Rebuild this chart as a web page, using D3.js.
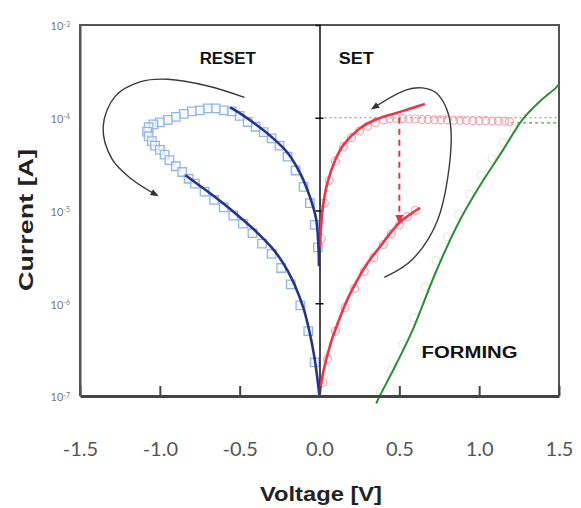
<!DOCTYPE html>
<html>
<head>
<meta charset="utf-8">
<script src="https://cdn.jsdelivr.net/npm/d3@7"></script>
<style>
  body { margin: 0; background: #fff; }
  svg { display: block; }
</style>
</head>
<body>
<div class="chart"></div>
<script>
// === Data (voltage in V, current in A) ===
const xTicks = [-1.5, -1.0, -0.5, 0.0, 0.5, 1.0, 1.5];
const yTicks = [1e-7, 1e-6, 1e-5, 1e-4, 1e-3];

// RESET (negative sweep) - fitted lines
const resetUpV = [-0.56, -0.5, -0.4, -0.3, -0.2, -0.12, -0.06, -0.02, -0.003];
const resetUpI = [1.29e-4, 1.12e-4, 8.5e-5, 6.2e-5, 4.2e-5, 2.5e-5, 1.4e-5, 7.9e-6, 2.5e-6];
const resetLowV = [-0.84, -0.7, -0.6, -0.5, -0.4, -0.3, -0.25, -0.2, -0.15, -0.1, -0.06, -0.03, 0];
const resetLowI = [2.4e-5, 1.6e-5, 1.18e-5, 8.5e-6, 6.0e-6, 4.0e-6, 3.1e-6, 2.25e-6, 1.5e-6, 8.8e-7, 4.7e-7, 2.5e-7, 1e-7];
// RESET measured points (open squares)
const resetPtsV = [-0.01, -0.03, -0.06, -0.1, -0.15, -0.2, -0.25, -0.3, -0.35, -0.4, -0.45, -0.5, -0.55, -0.6, -0.65, -0.7, -0.75, -0.8, -0.85, -0.9, -0.95, -1.0, -1.04, -1.07, -1.08, -1.07, -1.05, -1.03, -1.0, -0.97, -0.94, -0.9, -0.86, -0.82, -0.78, -0.72, -0.66, -0.6, -0.54, -0.48, -0.42, -0.36, -0.3, -0.24, -0.18, -0.12, -0.07, -0.03];
const resetPtsI = [4e-6, 7e-6, 1.2e-5, 1.8e-5, 2.7e-5, 3.8e-5, 5e-5, 6e-5, 7e-5, 8e-5, 9e-5, 1.05e-4, 1.17e-4, 1.2e-4, 1.26e-4, 1.26e-4, 1.2e-4, 1.17e-4, 1.1e-4, 1.02e-4, 9.5e-5, 8.9e-5, 8.5e-5, 7.9e-5, 7.1e-5, 6.3e-5, 5.6e-5, 5e-5, 4.5e-5, 4e-5, 3.5e-5, 3e-5, 2.6e-5, 2.2e-5, 1.95e-5, 1.6e-5, 1.3e-5, 1.08e-5, 8.8e-6, 7.2e-6, 5.7e-6, 4.4e-6, 3.4e-6, 2.4e-6, 1.6e-6, 9.5e-7, 5e-7, 2.3e-7];

// SET (positive sweep) - fitted lines
const setUpV = [0.003, 0.02, 0.05, 0.1, 0.15, 0.25, 0.35, 0.5, 0.66];
const setUpI = [4e-6, 1.05e-5, 2e-5, 3.55e-5, 5.1e-5, 7.6e-5, 9.5e-5, 1.15e-4, 1.41e-4];
const setLowV = [0.63, 0.56, 0.5, 0.44, 0.38, 0.3, 0.25, 0.18, 0.125, 0.07, 0.02, 0];
const setLowI = [1.07e-5, 8.9e-6, 7.4e-6, 5.6e-6, 4.1e-6, 2.7e-6, 1.95e-6, 1.15e-6, 6.8e-7, 3.7e-7, 1.7e-7, 1e-7];
// SET measured points (open circles), incl. compliance plateau
const setPtsV = [0.01, 0.03, 0.06, 0.1, 0.15, 0.2, 0.25, 0.3, 0.35, 0.4, 0.44, 0.48, 0.52, 0.56, 0.6, 0.64, 0.68, 0.72, 0.76, 0.8, 0.84, 0.88, 0.92, 0.96, 1.0, 1.04, 1.08, 1.12, 1.16, 1.19, 0.6, 0.55, 0.5, 0.45, 0.4, 0.34, 0.28, 0.22, 0.16, 0.1, 0.05, 0.02];
const setPtsI = [5e-6, 1.2e-5, 2.1e-5, 3.4e-5, 4.9e-5, 6.1e-5, 7.2e-5, 8.1e-5, 8.9e-5, 9.5e-5, 9.8e-5, 9.9e-5, 9.8e-5, 9.7e-5, 9.7e-5, 9.6e-5, 9.6e-5, 9.5e-5, 9.5e-5, 9.5e-5, 9.4e-5, 9.4e-5, 9.4e-5, 9.3e-5, 9.3e-5, 9.3e-5, 9.2e-5, 9.2e-5, 9.2e-5, 9.1e-5, 1.0e-5, 8.6e-6, 7.0e-6, 5.6e-6, 4.3e-6, 3.1e-6, 2.2e-6, 1.45e-6, 9e-7, 5e-7, 2.5e-7, 1.4e-7];

// FORMING
const formV = [0.355, 0.375, 0.48, 0.58, 0.73, 0.875, 1.0, 1.15, 1.27, 1.38, 1.48, 1.5];
const formI = [8.3e-8, 9.8e-8, 2.2e-7, 5.0e-7, 2.2e-6, 7.6e-6, 1.8e-5, 4.5e-5, 9.5e-5, 1.5e-4, 2.1e-4, 2.3e-4];
const formPtsV = [0.38, 0.45, 0.52, 0.59, 0.66, 0.73, 0.8, 0.87, 0.94, 1.01, 1.08, 1.15, 1.22];
const formPtsI = [1.1e-7, 1.9e-7, 3.6e-7, 7.0e-7, 1.5e-6, 2.9e-6, 5.2e-6, 9e-6, 1.5e-5, 2.4e-5, 3.6e-5, 5.4e-5, 7.6e-5];

// Compliance levels
const setCompliance = 1e-4;
const formCompliance = 8.8e-5;
const setJumpV = 0.5;
const setJumpI = [1e-4, 7.4e-6];

// Sweep direction arrows (annotations, data coords)
const resetArrowV = [-0.47, -0.7, -0.95, -1.12, -1.28, -1.355, -1.3, -1.18, -1.03];
const resetArrowI = [1.66e-4, 2.2e-4, 2.6e-4, 2.45e-4, 1.7e-4, 8e-5, 3.6e-5, 2.2e-5, 1.5e-5];
const setArrowV = [0.406, 0.58, 0.74, 0.825, 0.8, 0.73, 0.644, 0.544, 0.344];
const setArrowI = [1.9e-6, 2.95e-6, 7.9e-6, 5.7e-5, 1.2e-4, 1.86e-4, 2.1e-4, 2.0e-4, 1.3e-4];

const zip = (vs, is) => vs.map((v, k) => ({v: v, i: is[k]}));

//Chart init
const margin = {top: 25, right: 22, bottom: 112, left: 80};
const width = 581 - margin.left - margin.right;
const height = 508 - margin.top - margin.bottom;

const root = d3.select(".chart").append("svg")
    .attr("width", 581)
    .attr("height", 508);

const defs = root.append("defs");
defs.append("marker")
    .attr("id", "arrow")
    .attr("viewBox", "0 0 10 10")
    .attr("refX", 5).attr("refY", 5)
    .attr("markerWidth", 6).attr("markerHeight", 6)
    .attr("orient", "auto")
    .append("path")
    .attr("d", "M0,1 L10,5 L0,9 Z")
    .attr("fill", "#333");
defs.append("marker")
    .attr("id", "redarrow")
    .attr("viewBox", "0 0 10 10")
    .attr("refX", 8).attr("refY", 5)
    .attr("markerWidth", 5).attr("markerHeight", 5)
    .attr("orient", "auto")
    .append("path")
    .attr("d", "M0,1 L10,5 L0,9 Z")
    .attr("fill", "#e8344a");

const svg = root.append("g")
    .attr("transform", "translate(" + margin.left + "," + margin.top + ")");

// === Scales ===
const xScale = d3.scaleLinear().domain([-1.5, 1.5]).range([0, width]);
const yScale = d3.scaleLog().domain([1e-7, 1e-3]).range([height, 0]);

const line = d3.line()
    .x(d => xScale(d.v))
    .y(d => yScale(d.i))
    .curve(d3.curveCatmullRom);

// === Frame ===
svg.append("path")
    .attr("d", "M0," + height + "V0H" + width + "V" + height)
    .attr("fill", "none")
    .attr("stroke", "#555")
    .attr("stroke-width", 2);

// === Compliance lines ===
svg.append("line")
    .attr("x1", xScale(0)).attr("x2", xScale(1.5))
    .attr("y1", yScale(setCompliance)).attr("y2", yScale(setCompliance))
    .attr("stroke", "#888").attr("stroke-width", 1.2)
    .attr("stroke-dasharray", "2,3");
svg.append("line")
    .attr("x1", xScale(1.2)).attr("x2", xScale(1.5))
    .attr("y1", yScale(formCompliance)).attr("y2", yScale(formCompliance))
    .attr("stroke", "#5a9a5a").attr("stroke-width", 1.4)
    .attr("stroke-dasharray", "3,3");

// === Marker series ===
svg.selectAll(".form-pt")
    .data(zip(formPtsV, formPtsI))
    .enter().append("circle")
    .attr("class", "form-pt")
    .attr("cx", d => xScale(d.v)).attr("cy", d => yScale(d.i))
    .attr("r", 4)
    .attr("fill", "none")
    .attr("stroke", "#d6eed6").attr("stroke-width", 1);

svg.selectAll(".reset-pt")
    .data(zip(resetPtsV, resetPtsI))
    .enter().append("path")
    .attr("class", "reset-pt")
    .attr("transform", d => "translate(" + xScale(d.v) + "," + yScale(d.i) + ")")
    .attr("d", d3.symbol(d3.symbolSquare, 72))
    .attr("fill", "#f2f6fd")
    .attr("fill-opacity", 0.6)
    .attr("stroke", "#93b4ee").attr("stroke-width", 1.3);

svg.selectAll(".set-pt")
    .data(zip(setPtsV, setPtsI))
    .enter().append("circle")
    .attr("class", "set-pt")
    .attr("cx", d => xScale(d.v)).attr("cy", d => yScale(d.i))
    .attr("r", 4)
    .attr("fill", "none")
    .attr("stroke", "#f7a3ad").attr("stroke-width", 1.2);

// === Zero-voltage line with decade marks ===
const zeroAxis = svg.append("g")
    .attr("transform", "translate(" + xScale(0) + ",0)")
    .call(d3.axisLeft(yScale).tickValues(yTicks.slice(1, 4)).tickSize(4).tickFormat(""));
zeroAxis.select(".domain").attr("stroke", "#111").attr("stroke-width", 1.5);
zeroAxis.selectAll(".tick line").attr("stroke", "#111").attr("stroke-width", 1.5).attr("x2", 4).attr("x1", -4);

// === Fit lines ===
svg.append("path").datum(zip(formV, formI))
    .attr("d", line).attr("fill", "none")
    .attr("stroke", "#2f8a3c").attr("stroke-width", 2);

svg.append("line")
    .attr("x1", xScale(setJumpV)).attr("x2", xScale(setJumpV))
    .attr("y1", yScale(setJumpI[0])).attr("y2", yScale(setJumpI[1]))
    .attr("stroke", "#e8344a").attr("stroke-width", 2)
    .attr("stroke-dasharray", "6,5")
    .attr("marker-end", "url(#redarrow)");

[[setUpV, setUpI], [setLowV, setLowI]].forEach(s => {
    svg.append("path").datum(zip(s[0], s[1]))
        .attr("d", line).attr("fill", "none")
        .attr("stroke", "#ef3348").attr("stroke-width", 2.6);
});
[[resetUpV, resetUpI], [resetLowV, resetLowI]].forEach(s => {
    svg.append("path").datum(zip(s[0], s[1]))
        .attr("d", line).attr("fill", "none")
        .attr("stroke", "#27338a").attr("stroke-width", 2.6);
});

// === Sweep arrows ===
[[resetArrowV, resetArrowI], [setArrowV, setArrowI]].forEach(s => {
    svg.append("path").datum(zip(s[0], s[1]))
        .attr("d", line).attr("fill", "none")
        .attr("stroke", "#3a3a3a").attr("stroke-width", 1.4)
        .attr("marker-end", "url(#arrow)");
});

// === Axes ===
const xAxis = d3.axisBottom(xScale)
    .tickValues(xTicks)
    .tickSizeInner(-10)
    .tickSizeOuter(0)
    .tickFormat(d => d.toFixed(1));
const gx = svg.append("g")
    .attr("class", "axis x-axis")
    .attr("transform", "translate(0," + height + ")")
    .call(xAxis);
gx.select(".domain").attr("stroke", "#444").attr("stroke-width", 3);
gx.selectAll(".tick line").attr("stroke", "#444").attr("stroke-width", 2);
gx.selectAll(".tick text")
    .attr("y", 60).attr("dy", 0)
    .attr("font-family", "Lato, 'Open Sans', sans-serif")
    .attr("font-size", 20)
    .attr("fill", "#555");

const gy = svg.append("g")
    .attr("class", "y-axis")
    .call(d3.axisLeft(yScale).tickValues(yTicks).tickSize(0).tickPadding(10));
gy.select(".domain").attr("stroke", "#555").attr("stroke-width", 2);
gy.selectAll(".tick text")
    .attr("font-family", "Lato, 'Open Sans', sans-serif")
    .attr("font-size", 11)
    .attr("fill", "#777")
    .attr("dy", "0.45em")
    .each(function(d) {
        const t = d3.select(this).text("10");
        t.append("tspan")
            .attr("dy", "-0.55em")
            .attr("font-size", 7)
            .text(Math.round(Math.log10(d)));
    });

// === Region labels ===
const labelFont = "'Liberation Sans Narrow', 'Liberation Sans', Arial, sans-serif";
[["RESET", -0.575, 3.8e-4, 56], ["SET", 0.23, 3.8e-4, 35], ["FORMING", 0.94, 2.6e-7, 96]].forEach(l => {
    svg.append("text")
        .attr("x", xScale(l[1])).attr("y", yScale(l[2]))
        .attr("text-anchor", "middle")
        .attr("font-family", labelFont)
        .attr("font-weight", "bold")
        .attr("font-size", 16)
        .attr("textLength", l[3])
        .attr("lengthAdjust", "spacingAndGlyphs")
        .attr("fill", "#111")
        .text(l[0]);
});

// === Axis titles ===
root.append("text")
    .attr("x", 321).attr("y", 501)
    .attr("text-anchor", "middle")
    .attr("font-family", labelFont)
    .attr("font-weight", "bold")
    .attr("font-size", 20)
    .attr("textLength", 122)
    .attr("lengthAdjust", "spacingAndGlyphs")
    .attr("fill", "#222")
    .text("Voltage [V]");

root.append("text")
    .attr("transform", "translate(33,220) rotate(-90)")
    .attr("text-anchor", "middle")
    .attr("font-family", labelFont)
    .attr("font-weight", "bold")
    .attr("font-size", 21)
    .attr("textLength", 142)
    .attr("lengthAdjust", "spacingAndGlyphs")
    .attr("fill", "#222")
    .text("Current [A]");
</script>
</body>
</html>
